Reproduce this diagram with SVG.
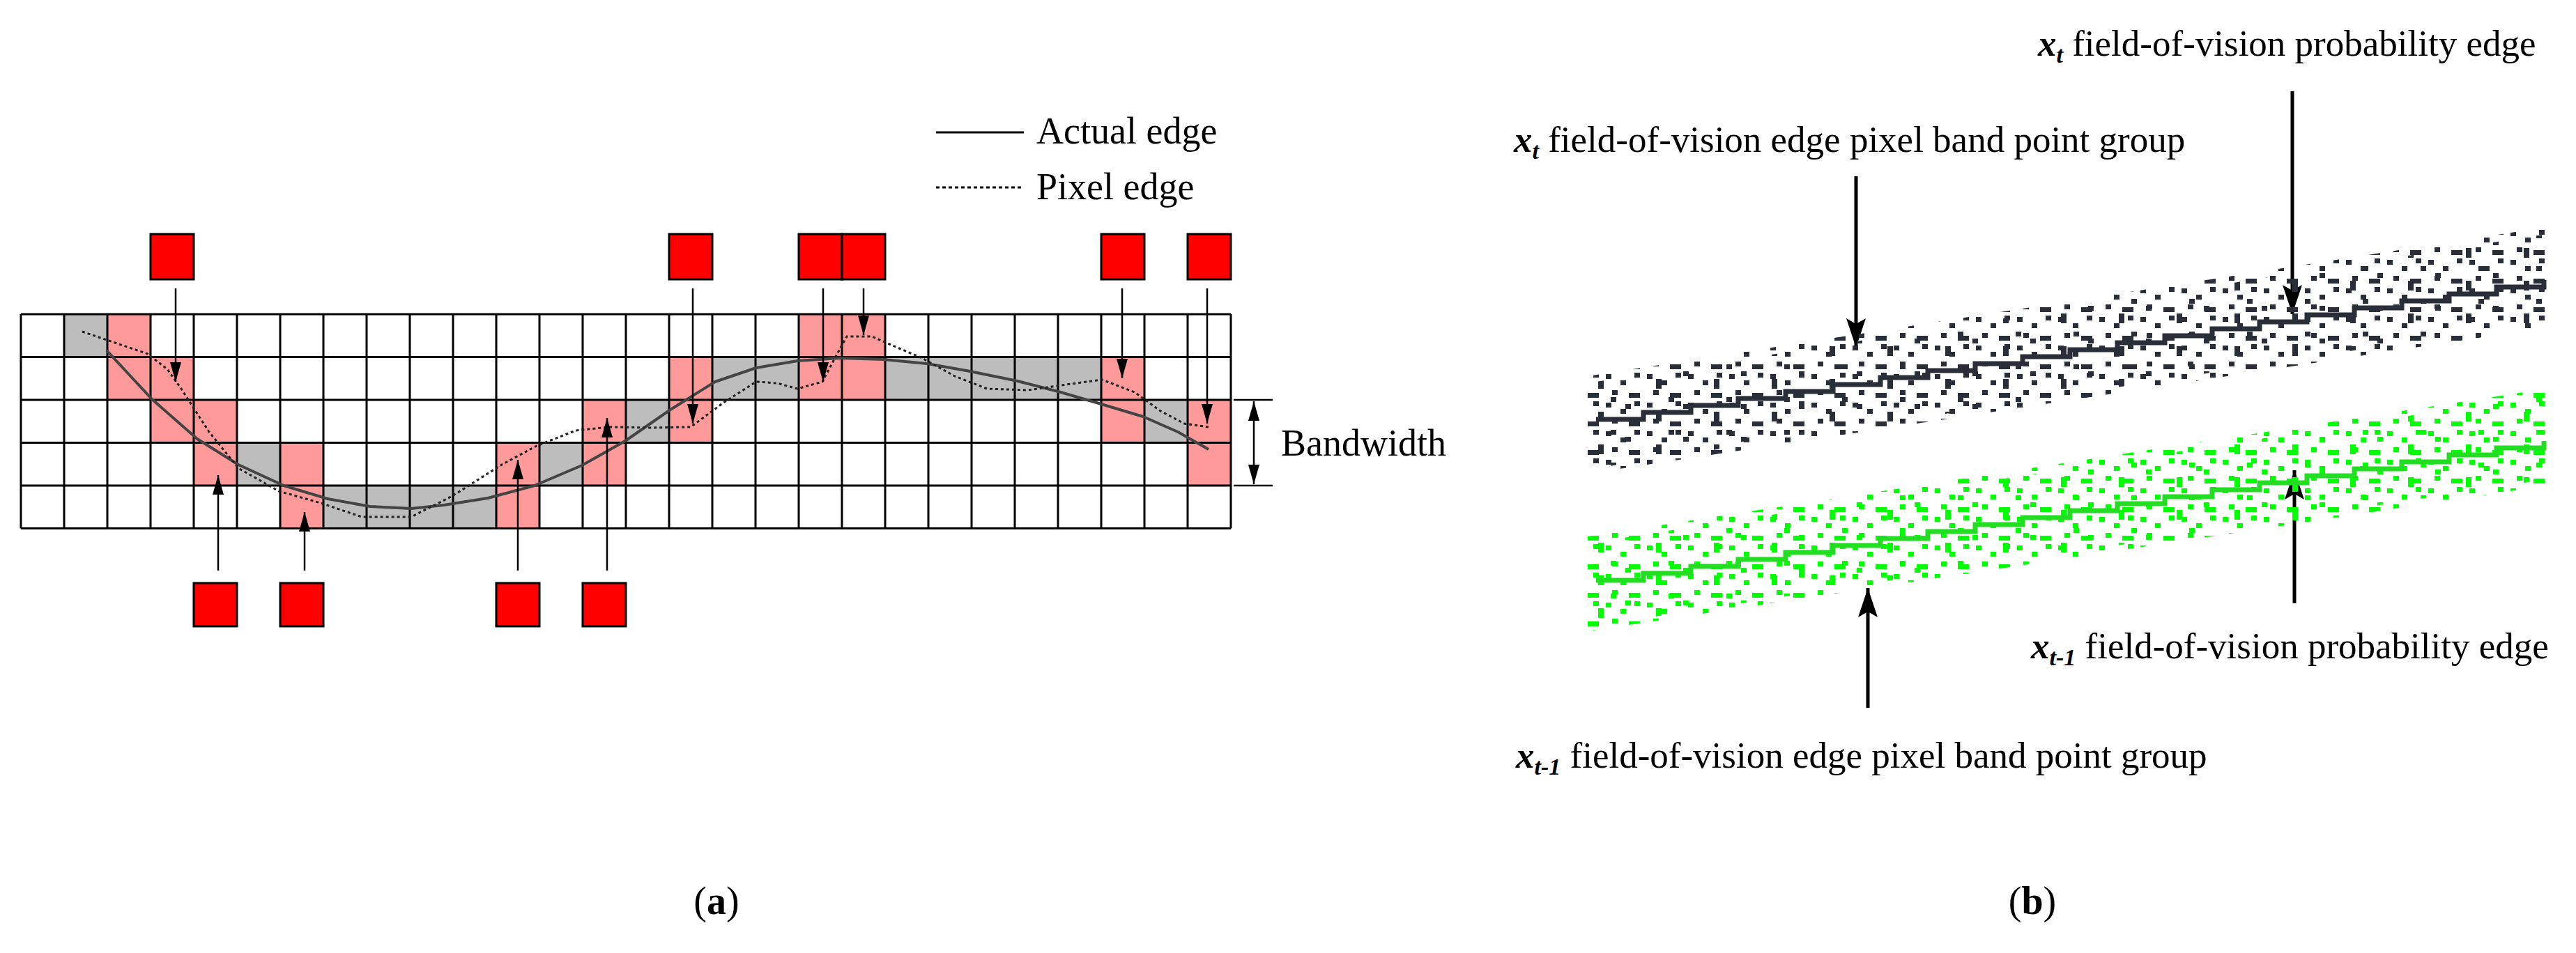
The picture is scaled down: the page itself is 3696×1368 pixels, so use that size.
<svg xmlns="http://www.w3.org/2000/svg" width="3696" height="1368" viewBox="0 0 3696 1368">
<style>
.pk{fill:#ff9a9a}.gy{fill:#bdbdbd}
.gl{stroke:#000;stroke-width:3;fill:none}
.rb{fill:#ff0000;stroke:#000;stroke-width:3}
.ar{stroke:#000;stroke-width:2.5;fill:none}
.arb{stroke:#000;stroke-width:5;fill:none}
.t{font-family:"Liberation Serif",serif;fill:#000}
.d{fill:#2a2e38}.g{fill:#00ff00}
</style>
<defs>
<marker id="ah" markerUnits="userSpaceOnUse" markerWidth="30" markerHeight="16" refX="28" refY="8" orient="auto"><path d="M0,0 L28,8 L0,16 z" fill="#000"/></marker>
<marker id="ahs" markerUnits="userSpaceOnUse" markerWidth="30" markerHeight="16" refX="2" refY="8" orient="auto"><path d="M30,0 L2,8 L30,16 z" fill="#000"/></marker>
<marker id="ahb" markerUnits="userSpaceOnUse" markerWidth="44" markerHeight="28" refX="42" refY="14" orient="auto"><path d="M0,0 L42,14 L0,28 L8,14 z" fill="#000"/></marker>
<pattern id="pd1" patternUnits="userSpaceOnUse" width="59" height="41"><g class="d"><rect x="3" y="4" width="8" height="7"/><rect x="24" y="13" width="8" height="7"/><rect x="44" y="2" width="8" height="7"/><rect x="12" y="27" width="8" height="7"/><rect x="36" y="31" width="16" height="7"/></g></pattern>
<pattern id="pd2" patternUnits="userSpaceOnUse" width="83" height="47"><g class="d"><rect x="8" y="16" width="8" height="7"/><rect x="52" y="27" width="8" height="14"/><rect x="70" y="6" width="8" height="7"/></g></pattern>
<pattern id="pg1" patternUnits="userSpaceOnUse" width="59" height="41"><g class="g"><rect x="3" y="4" width="8" height="7"/><rect x="24" y="13" width="8" height="7"/><rect x="44" y="2" width="8" height="7"/><rect x="12" y="27" width="8" height="7"/><rect x="36" y="31" width="16" height="7"/></g></pattern>
<pattern id="pg2" patternUnits="userSpaceOnUse" width="83" height="47"><g class="g"><rect x="8" y="16" width="8" height="7"/><rect x="52" y="27" width="8" height="14"/><rect x="70" y="6" width="8" height="7"/></g></pattern>
</defs>
<rect width="3696" height="1368" fill="#fff"/>

<g id="grid">
<g class="gy">
<rect x="92" y="451" width="62" height="61.5"/>
<rect x="1022" y="512.5" width="124" height="61.5"/>
<rect x="1270" y="512.5" width="310" height="61.5"/>
<rect x="898" y="574" width="62" height="61.5"/>
<rect x="1642" y="574" width="62" height="61.5"/>
<rect x="340" y="635.5" width="62" height="61.5"/>
<rect x="774" y="635.5" width="62" height="61.5"/>
<rect x="464" y="697" width="248" height="61.5"/>
</g>
<g class="pk">
<rect x="154" y="451" width="62" height="61.5"/>
<rect x="1146" y="451" width="124" height="61.5"/>
<rect x="154" y="512.5" width="124" height="61.5"/>
<rect x="960" y="512.5" width="62" height="61.5"/>
<rect x="1146" y="512.5" width="124" height="61.5"/>
<rect x="1580" y="512.5" width="62" height="61.5"/>
<rect x="216" y="574" width="124" height="61.5"/>
<rect x="836" y="574" width="62" height="61.5"/>
<rect x="960" y="574" width="62" height="61.5"/>
<rect x="1580" y="574" width="62" height="61.5"/>
<rect x="1704" y="574" width="62" height="61.5"/>
<rect x="278" y="635.5" width="62" height="61.5"/>
<rect x="402" y="635.5" width="62" height="61.5"/>
<rect x="712" y="635.5" width="62" height="61.5"/>
<rect x="836" y="635.5" width="62" height="61.5"/>
<rect x="1704" y="635.5" width="62" height="61.5"/>
<rect x="402" y="697" width="62" height="61.5"/>
<rect x="712" y="697" width="62" height="61.5"/>
</g>
<path class="gl" d="M30,451H1766M30,512.5H1766M30,574H1766M30,635.5H1766M30,697H1766M30,758.5H1766
M30,451V758.5M92,451V758.5M154,451V758.5M216,451V758.5M278,451V758.5M340,451V758.5M402,451V758.5M464,451V758.5M526,451V758.5M588,451V758.5M650,451V758.5M712,451V758.5M774,451V758.5M836,451V758.5M898,451V758.5M960,451V758.5M1022,451V758.5M1084,451V758.5M1146,451V758.5M1208,451V758.5M1270,451V758.5M1332,451V758.5M1394,451V758.5M1456,451V758.5M1518,451V758.5M1580,451V758.5M1642,451V758.5M1704,451V758.5M1766,451V758.5"/>
</g>

<g id="curves">
<polyline fill="none" stroke="#444" stroke-width="4" stroke-linejoin="round" points="153,503 218,573 283,630 342,667 407,697 470,716 531,727 590,730 637,725 700,715 767,697 835,668 897,633 962,588 1026,548 1085,528 1144,518 1205,514 1268,516 1330,522 1392,533 1460,547 1522,563 1580,580 1640,598 1690,620 1734,645"/>
<polyline fill="none" stroke="#222" stroke-width="3" stroke-dasharray="4 4" points="118,476 165,492 212,508 240,530 260,558 300,620 342,672 400,705 460,722 519,742 590,742 649,712 720,667 770,640 826,618 873,613 935,614 991,613 1038,578 1085,548 1115,550 1144,558 1180,548 1200,510 1215,483 1251,483 1290,500 1321,513 1370,540 1416,558 1475,560 1530,552 1581,545 1628,563 1665,590 1699,608 1734,613"/>
</g>

<g id="legend">
<line x1="1343" y1="190" x2="1469" y2="190" stroke="#000" stroke-width="3"/>
<text class="t" x="1487" y="206" font-size="54">Actual edge</text>
<line x1="1343" y1="269" x2="1469" y2="269" stroke="#000" stroke-width="3" stroke-dasharray="5 4"/>
<text class="t" x="1487" y="286" font-size="54">Pixel edge</text>
</g>

<g id="redboxes">
<rect class="rb" x="216" y="336" width="62" height="65"/>
<rect class="rb" x="960" y="336" width="62" height="65"/>
<rect class="rb" x="1146" y="336" width="62" height="65"/>
<rect class="rb" x="1208" y="336" width="62" height="65"/>
<rect class="rb" x="1580" y="336" width="62" height="65"/>
<rect class="rb" x="1704" y="336" width="62" height="65"/>
<rect class="rb" x="278" y="837" width="62" height="62"/>
<rect class="rb" x="402" y="837" width="62" height="62"/>
<rect class="rb" x="712" y="837" width="62" height="62"/>
<rect class="rb" x="836" y="837" width="62" height="62"/>
</g>

<g id="connectors">
<line class="ar" x1="252" y1="414" x2="252" y2="548" marker-end="url(#ah)"/>
<line class="ar" x1="994" y1="414" x2="994" y2="608" marker-end="url(#ah)"/>
<line class="ar" x1="1181" y1="414" x2="1181" y2="548" marker-end="url(#ah)"/>
<line class="ar" x1="1239" y1="414" x2="1239" y2="481" marker-end="url(#ah)"/>
<line class="ar" x1="1610" y1="414" x2="1610" y2="543" marker-end="url(#ah)"/>
<line class="ar" x1="1732" y1="414" x2="1732" y2="608" marker-end="url(#ah)"/>
<line class="ar" x1="313" y1="819" x2="313" y2="682" marker-end="url(#ah)"/>
<line class="ar" x1="437" y1="819" x2="437" y2="735" marker-end="url(#ah)"/>
<line class="ar" x1="743" y1="819" x2="743" y2="660" marker-end="url(#ah)"/>
<line class="ar" x1="871" y1="819" x2="871" y2="600" marker-end="url(#ah)"/>
<line class="ar" x1="1770" y1="574" x2="1826" y2="574"/>
<line class="ar" x1="1770" y1="697" x2="1826" y2="697"/>
<line class="ar" x1="1799" y1="576" x2="1799" y2="695" marker-start="url(#ahs)" marker-end="url(#ah)"/>
<line class="arb" x1="3289" y1="131" x2="3289" y2="451" marker-end="url(#ahb)"/>
<line class="arb" x1="2663" y1="253" x2="2663" y2="499" marker-end="url(#ahb)"/>
<line class="arb" x1="2680" y1="1016" x2="2680" y2="844" marker-end="url(#ahb)"/>
<line class="arb" x1="3292" y1="866" x2="3292" y2="675" marker-end="url(#ahb)"/>
</g>
<text class="t" x="1838" y="654" font-size="54">Bandwidth</text>

<g id="band-t">
<polygon points="2278,540 3654,326 3654,470 2278,680" fill="url(#pd1)"/>
<polygon points="2290,548 3654,336 3654,460 2290,672" fill="url(#pd2)"/>
<path d="M2290,602h68v-10h68v-10h68v-10h68v-10h68v-10h68v-10h68v-10h68v-10h68v-10h68v-10h68v-10h68v-10h68v-10h68v-10h68v-10h68v-10h68v-10h68v-10h68v-10h68v-10" fill="none" stroke="#2a2e38" stroke-width="7"/>
</g>
<g id="band-t1">
<polygon points="2278,770 3654,558 3654,697 2278,906" fill="url(#pg1)"/>
<polygon points="2290,778 3654,566 3654,688 2290,898" fill="url(#pg2)"/>
<path d="M2290,833h68v-10h68v-10h68v-10h68v-10h68v-10h68v-10h68v-10h68v-10h68v-10h68v-10h68v-10h68v-10h68v-10h68v-10h68v-10h68v-10h68v-10h68v-10h68v-10h68v-10" fill="none" stroke="#22dd22" stroke-width="7"/>
</g>

<g id="labels-b" class="t" font-size="53">
<text x="2924" y="80"><tspan font-weight="bold" font-style="italic">x</tspan><tspan font-weight="bold" font-style="italic" font-size="34" dy="10">t</tspan><tspan dy="-10"> field-of-vision probability edge</tspan></text>
<text x="2172" y="218"><tspan font-weight="bold" font-style="italic">x</tspan><tspan font-weight="bold" font-style="italic" font-size="34" dy="10">t</tspan><tspan dy="-10"> field-of-vision edge pixel band point group</tspan></text>
<text x="2914" y="945"><tspan font-weight="bold" font-style="italic">x</tspan><tspan font-weight="bold" font-style="italic" font-size="34" dy="10">t-1</tspan><tspan dy="-10"> field-of-vision probability edge</tspan></text>
<text x="2175" y="1102"><tspan font-weight="bold" font-style="italic">x</tspan><tspan font-weight="bold" font-style="italic" font-size="34" dy="10">t-1</tspan><tspan dy="-10"> field-of-vision edge pixel band point group</tspan></text>
</g>

<text class="t" x="1028" y="1312" font-size="56" text-anchor="middle">(<tspan font-weight="bold">a</tspan>)</text>
<text class="t" x="2916" y="1312" font-size="56" text-anchor="middle">(<tspan font-weight="bold">b</tspan>)</text>
</svg>
